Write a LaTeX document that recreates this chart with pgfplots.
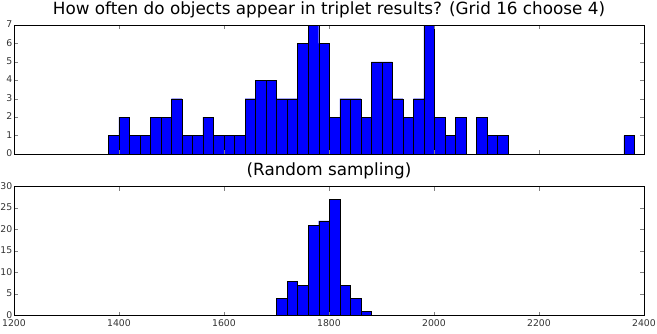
\documentclass[border=0pt]{standalone}
\usepackage{fontspec}
\setmainfont{DejaVu Sans}
\usepackage{pgfplots}
\pgfplotsset{compat=1.18}
\pgfplotsset{
  hstyle/.style={
    scale only axis, width=630pt, height=129pt,
    xmin=1200, xmax=2400,
    xtick={1200,1400,...,2400},
    tick align=inside, major tick length=4pt,
    tick pos=both,
    axis line style={line width=0.8pt},
    /pgf/number format/assume math mode=true,
    /pgf/number format/1000 sep={},
    tick label style={font=\fontsize{9.3}{10}\selectfont, text=black!80, inner xsep=1.5pt, inner ysep=0pt},
    xticklabel style={yshift=-3.5pt},
    yticklabel style={yshift=0.8pt},
    title style={font=\fontsize{16.8}{18}\selectfont, inner sep=0pt, at={(0.5,1)}, anchor=base, yshift=4.8pt},
    axis on top,
  },
}
\begin{document}
\begin{tikzpicture}
\useasboundingbox (0pt,0pt) rectangle (657pt,333pt);
\begin{axis}[hstyle, at={(14pt,179pt)}, anchor=south west,
  ymin=0, ymax=7, ytick={0,1,...,7}, xticklabels={},
  title={How often do objects appear in triplet results? (Grid 16 choose 4)}]
\addplot[ybar interval, fill=blue, draw=black, line width=0.4pt] table {
x y
1379.6 1
1399.64 2
1419.68 1
1439.72 1
1459.76 2
1479.8 2
1499.84 3
1519.88 1
1539.92 1
1559.96 2
1580.0 1
1600.04 1
1620.08 1
1640.12 3
1660.16 4
1680.2 4
1700.24 3
1720.28 3
1740.32 6
1760.36 7
1780.4 6
1800.44 2
1820.48 3
1840.52 3
1860.56 2
1880.6 5
1900.64 5
1920.68 3
1940.72 2
1960.76 3
1980.8 7
2000.84 2
2020.88 1
2040.92 2
2060.96 0
2081.0 2
2101.04 1
2121.08 1
2141.12 0
2161.16 0
2181.2 0
2201.24 0
2221.28 0
2241.32 0
2261.36 0
2281.4 0
2301.44 0
2321.48 0
2341.52 0
2361.56 1
2381.6 1
};
\end{axis}
\begin{axis}[hstyle, at={(14pt,17.5pt)}, anchor=south west,
  ymin=0, ymax=30, ytick={0,5,...,30},
  title={(Random sampling)}]
\addplot[ybar interval, fill=blue, draw=black, line width=0.4pt] table {
x y
1700.24 4
1720.28 8
1740.32 7
1760.36 21
1780.4 22
1800.44 27
1820.48 7
1840.52 4
1860.56 1
1880.6 1
};
\end{axis}
\end{tikzpicture}
\end{document}
